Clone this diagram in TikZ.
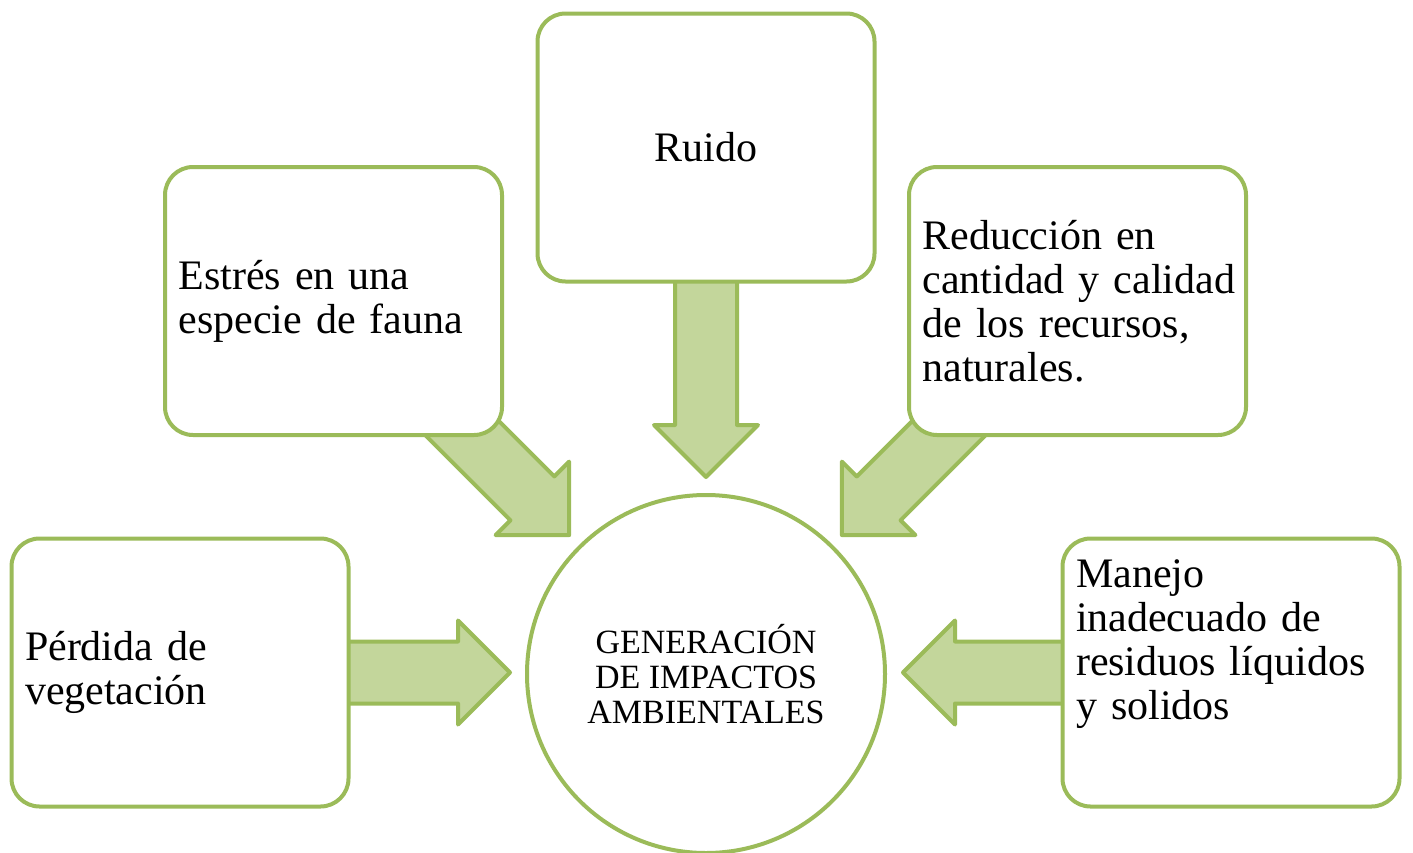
\documentclass[tikz,border=0pt]{standalone}
\usepackage{fontspec}
\setmainfont{Liberation Serif}
\usetikzlibrary{calc,backgrounds}
\definecolor{gline}{HTML}{9BBB59}
\definecolor{gfill}{HTML}{C3D69B}
\tikzset{
  box/.style={draw=gline, line width=4pt, fill=white, rounded corners=28pt,
    minimum width=337pt, minimum height=268pt, text width=310pt, align=left,
    inner sep=0pt, font=\fontsize{42}{44}\selectfont},
  hub/.style={draw=gline, line width=4pt, fill=white, circle, minimum size=358pt,
    inner sep=0pt, align=center, font=\fontsize{34}{35}\selectfont},
  fatarr/.style={draw=gline, fill=gfill, line width=4pt, line join=round}
}
\newcommand\fatarrow[3]{%
  \begin{scope}[shift={#1}, rotate=#2]
    \draw[fatarr] (0,-31) -- (#3-52,-31) -- (#3-52,-52) -- (#3,0) -- (#3-52,52) -- (#3-52,31) -- (0,31) -- cycle;
  \end{scope}}
\begin{document}
\begin{tikzpicture}[x=1pt,y=-1pt]
  \useasboundingbox (0,0) rectangle (1413,852);
  \node[box, align=center] (ruido) at (706,147.5) {Ruido};
  \node[box] (estres) at (333.5,301) {Estrés en una\\especie de fauna};
  \node[box] (reduccion) at (1077.5,301) {Reducción en\\\mbox{cantidad y calidad}\\de los recursos,\\naturales.};
  \node[box] (perdida) at (180,672.5) {Pérdida de\\vegetación};
  \node[box] (manejo) at (1231,672.5) {Manejo\\inadecuado de\\residuos líquidos\\y solidos\\[22pt]\mbox{}};
  \node[hub] (hub) at (706,674) {GENERACIÓN\\DE IMPACTOS\\AMBIENTALES};
  \begin{scope}[on background layer]
    \fatarrow{($(ruido.south)+(0,-15)$)}{-90}{208.5}
    \fatarrow{($(perdida.east)+(-15,0)$)}{0}{174.5}
    \fatarrow{($(manejo.west)+(15,0)$)}{180}{172.5}
    \fatarrow{($(estres.south east)+(-65,-32)$)}{-45}{184}
    \fatarrow{($(reduccion.south west)+(65,-32)$)}{-135}{184}
  \end{scope}
\end{tikzpicture}
\end{document}
